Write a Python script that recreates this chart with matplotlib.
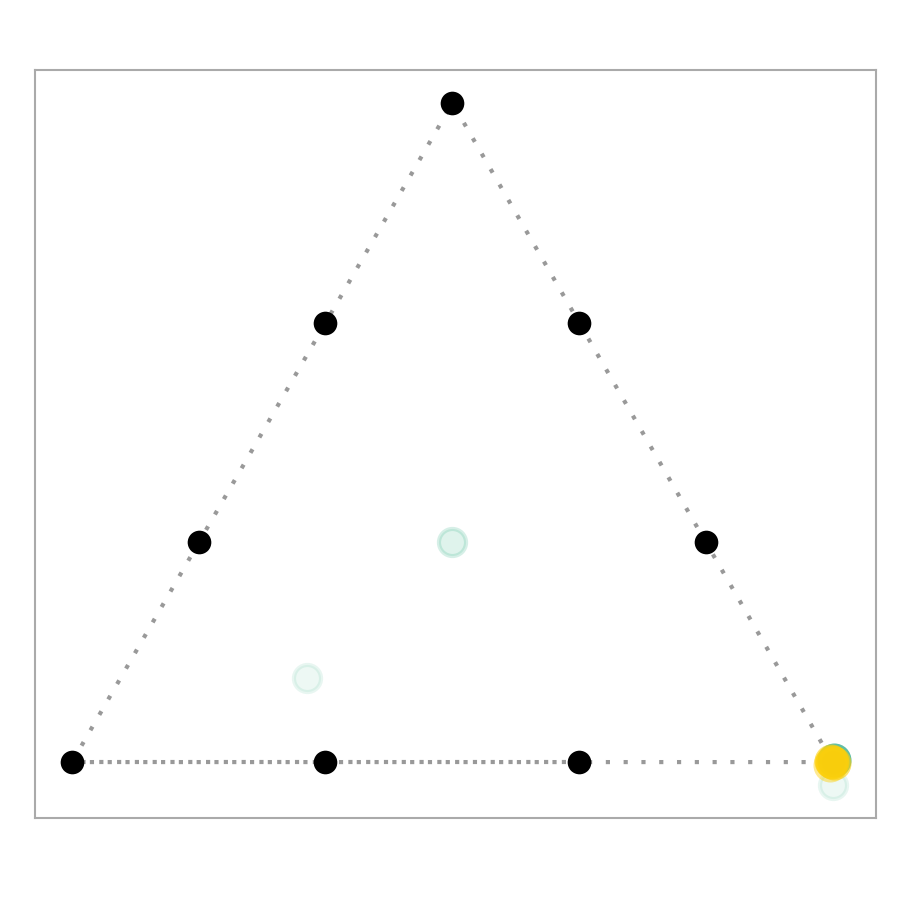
import matplotlib
matplotlib.use("Agg")
import matplotlib.pyplot as plt
from matplotlib.colors import to_rgba

# simplex corners and the points on its edges
edge_x = [0.0, 1.0, 0.5, 0.0]
edge_y = [0.0, 0.0, 0.866, 0.0]
extra_x = [0.0, 0.667]
extra_y = [0.0, 0.0]

grid_x = [0.0, 0.333, 0.667, 1.0, 0.167, 0.333, 0.5, 0.667, 0.833]
grid_y = [0.0, 0.0, 0.0, 0.0, 0.289, 0.577, 0.866, 0.577, 0.289]

# faint points (light teal)
faint_x = [0.5, 0.309, 1.0]
faint_y = [0.289, 0.110, -0.030]
faint_alpha = [0.16, 0.09, 0.09]

# points piled up at the right corner
end_x = [1.002, 0.999, 0.998, 1.002, 0.996]
end_y = [0.003, 0.000, 0.002, -0.001, -0.004]
end_col = ["#3aae8e", "#fdd00a", "#fdd00a", "#fdd00a", "#fdd00a"]
end_alpha = [0.8, 0.75, 0.6, 0.6, 0.45]

fig = plt.figure(figsize=(9, 9), dpi=100)
ax = fig.add_axes([0.039, 0.091, 0.934, 0.831])

ax.plot(edge_x, edge_y, color="#999999", lw=3, linestyle=(0, (1, 3.27)),
        dash_capstyle="butt", zorder=1)
ax.plot(extra_x, extra_y, color="#999999", lw=3, linestyle=(2, (1, 3.27)),
        dash_capstyle="butt", zorder=1)

ax.scatter(grid_x, grid_y, s=290, color="black", zorder=3, linewidths=0)

for x, y, a in zip(faint_x, faint_y, faint_alpha):
    ax.scatter([x], [y], s=380, facecolors=[to_rgba("#3cb58c", a)],
               edgecolors=[to_rgba("#3cb58c", a * 1.3)], linewidths=3, zorder=2)

for x, y, c, a in zip(end_x, end_y, end_col, end_alpha):
    ax.scatter([x], [y], s=600, color=c, alpha=a, linewidths=0, zorder=4)

ax.set_xlim(-0.0486, 1.0565)
ax.set_ylim(-0.0736, 0.909)
ax.set_xticks([])
ax.set_yticks([])
for sp in ax.spines.values():
    sp.set_color("#aaaaaa")
    sp.set_linewidth(1.5)

fig.savefig("out.png", dpi=100)
